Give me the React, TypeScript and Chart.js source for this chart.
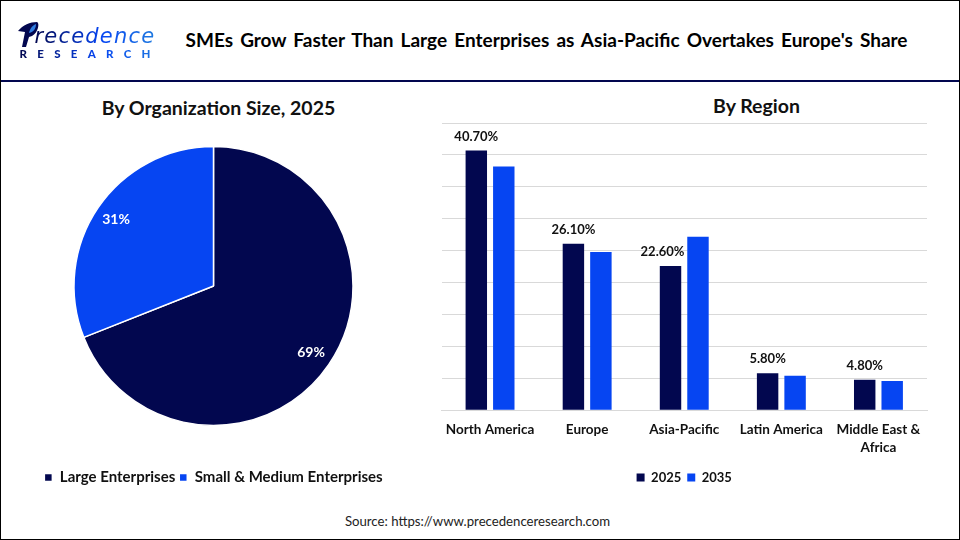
import React, { useEffect, useRef } from 'react';
import { Chart, registerables } from 'chart.js';

Chart.register(...registerables);

const FONT = 'Lato, sans-serif';
const NAVY = '#02074f';
const BLUE = '#0645f2';

const sizeLabels = ['Large Enterprises', 'Small & Medium Enterprises'];
const sizeValues = [69, 31];

const regions = ['North America', 'Europe', 'Asia-Pacific', 'Latin America', ['Middle East &', 'Africa']];
const values2025 = [40.7, 26.1, 22.6, 5.8, 4.8];
const values2035 = [38.2, 24.8, 27.2, 5.4, 4.6];
const labels2025 = ['40.70%', '26.10%', '22.60%', '5.80%', '4.80%'];
// Asia-Pacific label sits left of its bar so it clears the taller 2035 bar
const labelShift = [0, 0, -8, 0, 0];

const pieLabels = {
    id: 'pieLabels',
    afterDatasetsDraw(chart: any) {
        const ctx = chart.ctx;
        ctx.save();
        ctx.font = `bold 14px ${FONT}`;
        ctx.fillStyle = '#ffffff';
        ctx.textAlign = 'center';
        ctx.textBaseline = 'middle';
        chart.getDatasetMeta(0).data.forEach((arc: any, i: number) => {
            const mid = (arc.startAngle + arc.endAngle) / 2;
            const r = arc.outerRadius * 0.845;
            ctx.fillText(`${sizeValues[i]}%`, arc.x + Math.cos(mid) * r, arc.y + Math.sin(mid) * r);
        });
        ctx.restore();
    }
};

const barLabels = {
    id: 'barLabels',
    afterDatasetsDraw(chart: any) {
        const ctx = chart.ctx;
        ctx.save();
        ctx.font = `bold 13px ${FONT}`;
        ctx.fillStyle = '#111111';
        ctx.textAlign = 'center';
        ctx.textBaseline = 'middle';
        chart.getDatasetMeta(0).data.forEach((bar: any, i: number) => {
            ctx.fillText(labels2025[i], bar.x + labelShift[i], bar.y - 14);
        });
        ctx.restore();
    }
};

const PieChart = () => {
    const ref = useRef<HTMLCanvasElement>(null);
    useEffect(() => {
        if (!ref.current) return;
        const chart = new Chart(ref.current, {
            type: 'pie',
            data: {
                labels: sizeLabels,
                datasets: [{
                    data: sizeValues,
                    backgroundColor: [NAVY, BLUE],
                    borderColor: '#ffffff',
                    borderWidth: 1.5,
                    radius: 139.5
                }]
            },
            options: {
                responsive: false,
                animation: false,
                layout: { padding: { left: 0, right: 3 } },
                plugins: {
                    tooltip: { enabled: false },
                    legend: {
                        position: 'bottom',
                        labels: {
                            boxWidth: 8,
                            boxHeight: 8,
                            padding: 4,
                            color: '#111111',
                            font: { family: FONT, size: 15, weight: 'bold' }
                        }
                    }
                }
            },
            plugins: [pieLabels]
        });
        return () => chart.destroy();
    }, []);
    return <canvas ref={ref} width={430} height={389} style={{ position: 'absolute', left: 0, top: 106, width: 430, height: 389 }} />;
};

const BarChart = () => {
    const ref = useRef<HTMLCanvasElement>(null);
    useEffect(() => {
        if (!ref.current) return;
        const common = { categoryPercentage: 0.566, barPercentage: 0.78 };
        const chart = new Chart(ref.current, {
            type: 'bar',
            data: {
                labels: regions as any,
                datasets: [
                    { label: '2025', data: values2025, backgroundColor: NAVY, ...common },
                    { label: '2035', data: values2035, backgroundColor: BLUE, ...common }
                ]
            },
            options: {
                responsive: false,
                animation: false,
                layout: { padding: { left: 11.5, right: 13, top: 13, bottom: 0 } },
                scales: {
                    x: {
                        grid: { display: false },
                        border: { color: '#d9d9d9' },
                        afterFit: (scale: any) => { scale.height = 54.7; },
                        ticks: {
                            color: '#111111',
                            maxRotation: 0,
                            autoSkip: false,
                            padding: 2.4,
                            font: { family: FONT, size: 13.5, weight: 'bold', lineHeight: 1.33 }
                        }
                    },
                    y: {
                        min: 0,
                        max: 45,
                        ticks: { display: false, stepSize: 5 },
                        grid: { color: '#d9d9d9', drawTicks: false },
                        border: { display: false }
                    }
                },
                plugins: {
                    tooltip: { enabled: false },
                    legend: {
                        position: 'bottom',
                        labels: {
                            boxWidth: 8,
                            boxHeight: 8,
                            padding: 6,
                            color: '#111111',
                            font: { family: FONT, size: 13, weight: 'bold' }
                        }
                    }
                }
            },
            plugins: [barLabels]
        });
        return () => chart.destroy();
    }, []);
    return <canvas ref={ref} width={510} height={384} style={{ position: 'absolute', left: 430, top: 110, width: 510, height: 384 }} />;
};

const text = (left: number, top: number, width: number, size: number, weight: number, color: string): React.CSSProperties => ({
    position: 'absolute', left, top, width, fontSize: size, fontWeight: weight, color,
    textAlign: 'center', whiteSpace: 'nowrap', lineHeight: '24px', fontFamily: FONT
});

const gradientText: React.CSSProperties = {
    background: `linear-gradient(90deg, ${NAVY}, ${BLUE} 55%, #1f7ae0)`,
    WebkitBackgroundClip: 'text',
    backgroundClip: 'text',
    color: 'transparent'
};

const Logo = () => (
    <div style={{ position: 'absolute', left: 18, top: 20, width: 140, height: 42 }}>
        <svg width="30" height="30" viewBox="0 0 30 30" style={{ position: 'absolute', left: 0, top: 0 }}>
            <path d="M0 11 C5 5 12 2 19 2 C22 3 20 13 14 16 L11 17 L8 27 L4 27 L7 12 Z" fill={NAVY} />
            <path d="M11 13 C12 8 15 5 18 4 C18 8 16 12 11 13 Z" fill="#2f7de0" />
        </svg>
        <div style={{ position: 'absolute', left: 17, top: 1, fontFamily: '"DejaVu Sans", sans-serif', fontStyle: 'italic', fontSize: 21, lineHeight: '30px', letterSpacing: 1.2, whiteSpace: 'nowrap', ...gradientText }}>
            recedence
        </div>
        <div style={{ position: 'absolute', left: 2, top: 27, fontFamily: FONT, fontWeight: 900, fontSize: 11.5, lineHeight: '13px', letterSpacing: 10.3, whiteSpace: 'nowrap', ...gradientText }}>
            RESEARCH
        </div>
    </div>
);

const App = () => (
    <div style={{ position: 'absolute', left: 0, top: 0, width: 960, height: 540, boxSizing: 'border-box', border: '1.5px solid #000', background: '#fff', overflow: 'hidden' }}>
        <div style={{ position: 'absolute', left: -1.5, top: -1.5, width: 960, height: 540 }}>
            <Logo />
            <div style={{ ...text(186, 28.5, 730, 19, 700, '#000'), wordSpacing: 2.5, textAlign: 'left' }}>
                SMEs Grow Faster Than Large Enterprises as Asia-Pacific Overtakes Europe's Share
            </div>
            <div style={{ position: 'absolute', left: 0, top: 80, width: 960, height: 2, background: NAVY }} />
            <div style={text(59, 96, 320, 19.5, 700, '#111')}>By Organization Size, 2025</div>
            <div style={text(657, 94, 200, 19.5, 700, '#111')}>By Region</div>
            <PieChart />
            <BarChart />
            <div style={text(278, 509.5, 400, 13.2, 400, '#222')}>Source: https://www.precedenceresearch.com</div>
        </div>
    </div>
);

export default App;
